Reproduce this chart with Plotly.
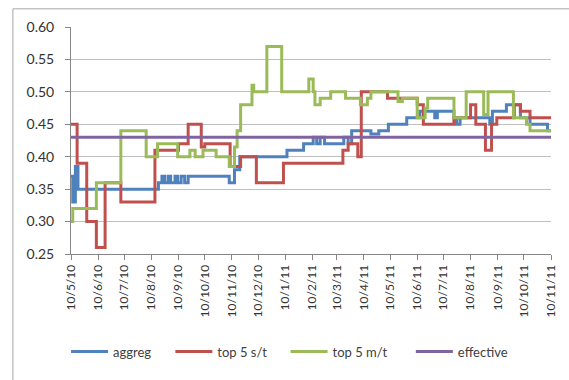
import plotly.graph_objects as go

# ---- data (step series, value holds until next date) ----
aggreg_dates = ["2010-05-10","2010-05-12","2010-05-15","2010-05-18","2010-08-18","2010-08-22","2010-08-25",
                "2010-08-29","2010-09-01","2010-09-06","2010-09-09","2010-09-13","2010-09-17","2010-09-21",
                "2010-11-07","2010-11-13","2010-11-19","2011-01-12","2011-01-31","2011-02-11","2011-02-15",
                "2011-02-19","2011-02-24","2011-03-18","2011-03-23","2011-03-27","2011-04-18","2011-04-27",
                "2011-05-08","2011-05-29","2011-06-13","2011-06-30","2011-07-03","2011-07-22","2011-07-25",
                "2011-07-29","2011-09-01","2011-09-04","2011-09-20","2011-10-06","2011-10-17","2011-11-06",
                "2011-11-10"]
aggreg_vals = [0.37,0.33,0.385,0.35,0.36,0.37,0.36,
               0.37,0.36,0.37,0.36,0.37,0.36,0.37,
               0.36,0.38,0.40,0.41,0.42,0.43,0.42,
               0.43,0.42,0.43,0.42,0.44,0.435,0.44,
               0.45,0.46,0.47,0.46,0.47,0.46,0.45,
               0.46,0.45,0.47,0.48,0.46,0.45,0.44,
               0.44]

st_dates = ["2010-05-10","2010-05-17","2010-05-28","2010-06-08","2010-06-18","2010-07-06","2010-08-14",
            "2010-09-10","2010-09-21","2010-10-06","2010-10-10","2010-11-08","2010-11-20","2010-12-08",
            "2011-01-08","2011-03-17","2011-03-23","2011-04-03","2011-04-07","2011-05-07","2011-06-10",
            "2011-06-17","2011-07-22","2011-08-10","2011-08-16","2011-08-27","2011-09-03","2011-09-09",
            "2011-09-29","2011-10-06","2011-10-17","2011-11-10"]
st_vals = [0.45,0.39,0.30,0.26,0.36,0.33,0.41,
           0.42,0.45,0.415,0.42,0.385,0.40,0.36,
           0.39,0.41,0.42,0.40,0.50,0.49,0.48,
           0.45,0.46,0.48,0.45,0.41,0.45,0.46,
           0.48,0.47,0.46,0.46]

mt_dates = ["2010-05-10","2010-05-12","2010-06-08","2010-07-06","2010-08-04","2010-08-17","2010-09-09",
            "2010-09-23","2010-09-29","2010-10-08","2010-10-23","2010-11-07","2010-11-13","2010-11-16",
            "2010-11-20","2010-12-03","2010-12-05","2010-12-20","2011-01-06","2011-02-06","2011-02-11",
            "2011-02-13","2011-02-19","2011-03-03","2011-03-20","2011-04-06","2011-04-14","2011-04-18",
            "2011-05-19","2011-05-24","2011-06-10","2011-06-19","2011-06-22","2011-07-22","2011-08-05",
            "2011-08-25","2011-08-30","2011-09-28","2011-10-13","2011-10-17","2011-11-10"]
mt_vals = [0.30,0.32,0.36,0.44,0.40,0.42,0.40,
           0.41,0.40,0.41,0.40,0.385,0.415,0.44,
           0.48,0.51,0.50,0.57,0.50,0.52,0.50,
           0.48,0.49,0.50,0.49,0.48,0.49,0.50,
           0.485,0.49,0.46,0.475,0.49,0.46,0.50,
           0.465,0.50,0.46,0.45,0.44,0.44]

eff_dates = ["2010-05-10", "2011-11-10"]
eff_vals = [0.43, 0.43]

tick_dates = ["2010-05-10","2010-06-10","2010-07-10","2010-08-10","2010-09-10","2010-10-10","2010-11-10",
              "2010-12-10","2011-01-10","2011-02-10","2011-03-10","2011-04-10","2011-05-10","2011-06-10",
              "2011-07-10","2011-08-10","2011-09-10","2011-10-10","2011-11-10"]
tick_labels = ["10/5/10","10/6/10","10/7/10","10/8/10","10/9/10","10/10/10","10/11/10","10/12/10",
               "10/1/11","10/2/11","10/3/11","10/4/11","10/5/11","10/6/11","10/7/11","10/8/11",
               "10/9/11","10/10/11","10/11/11"]

series = [
    ("aggreg", aggreg_dates, aggreg_vals, "#4F81BD"),
    ("top 5 s/t", st_dates, st_vals, "#C0504D"),
    ("top 5 m/t", mt_dates, mt_vals, "#9BBB59"),
    ("effective", eff_dates, eff_vals, "#8064A2"),
]
legend_ids = ["legend", "legend2", "legend3", "legend4"]
legend_x = [-0.0103, 0.207, 0.447, 0.708]

fig = go.Figure()
for (name, xs, ys, col), lid in zip(series, legend_ids):
    fig.add_trace(go.Scatter(x=xs, y=ys, name=name, mode="lines", legend=lid,
                             line=dict(color=col, width=3, shape="hv")))

font = "Lato, 'Open Sans', sans-serif"
legend_common = dict(orientation="h", y=-0.43, xanchor="left", yanchor="middle",
                     font=dict(size=13, color="#404040"), itemwidth=37,
                     bgcolor="rgba(0,0,0,0)")
layout_legends = {lid: dict(x=lx, **legend_common) for lid, lx in zip(legend_ids, legend_x)}

fig.update_layout(
    width=569, height=380,
    margin=dict(l=71, r=11, t=27, b=126),
    paper_bgcolor="white", plot_bgcolor="white",
    font=dict(family=font, size=13, color="#404040"),
    showlegend=True,
    xaxis=dict(type="date", range=["2010-05-10", "2011-11-10"],
               tickvals=tick_dates, ticktext=tick_labels, tickangle=-90,
               showgrid=False, showline=True, linecolor="#868686", linewidth=1,
               ticks="outside", ticklen=5, tickcolor="#868686",
               tickfont=dict(size=12, color="#333333"), zeroline=False),
    yaxis=dict(range=[0.25, 0.60], tickvals=[0.25,0.30,0.35,0.40,0.45,0.50,0.55,0.60],
               tickformat=".2f", showgrid=True, gridcolor="#BFBFBF", gridwidth=1,
               showline=True, linecolor="#868686", linewidth=1,
               ticks="outside", ticklen=5, tickcolor="#868686", ticklabelstandoff=8,
               tickfont=dict(size=14, color="#333333"), zeroline=False),
    shapes=[dict(type="rect", xref="paper", yref="paper",
                 x0=-0.121, x1=1.05, y0=-0.80, y1=1.08,
                 line=dict(color="#A6A6A6", width=1), fillcolor="rgba(0,0,0,0)", layer="below")],
    **layout_legends,
)
fig.write_html("out.html")
